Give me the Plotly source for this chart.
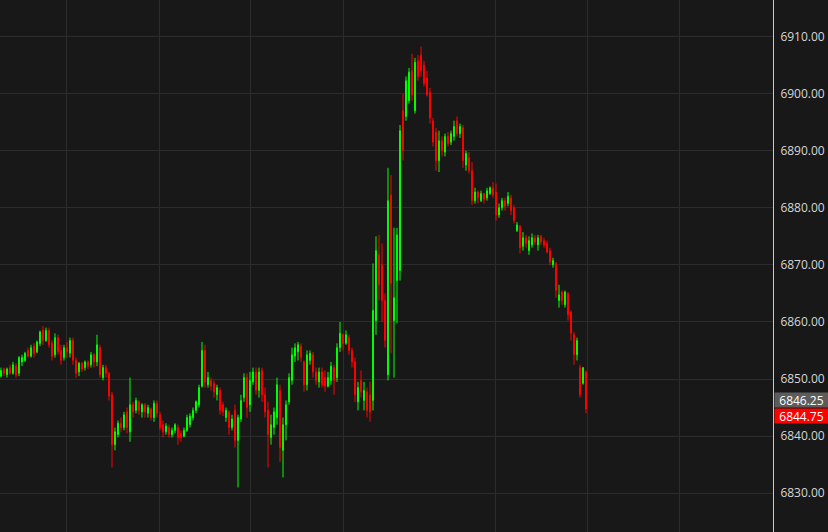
import plotly.graph_objects as go

# one bar every two minutes
opens = [
    6850.5, 6851.75, 6850.75, 6852.0, 6851.0, 6852.25, 6851.0, 6853.0, 6853.25, 6855.0,
    6854.0, 6855.75, 6854.75, 6856.25, 6858.5, 6856.75, 6858.5, 6856.25, 6854.25, 6857.25,
    6855.0, 6853.75, 6855.5, 6854.5, 6856.75, 6853.25, 6851.25, 6852.75, 6852.0, 6853.0,
    6852.5, 6854.25, 6853.0, 6855.5, 6850.25, 6852.0, 6851.0, 6847.25, 6838.5, 6840.25,
    6842.25, 6841.5, 6844.25, 6840.75, 6845.5, 6844.5, 6846.0, 6844.25, 6845.5, 6844.0,
    6844.75, 6843.25, 6845.75, 6843.75, 6842.0, 6840.75, 6841.5, 6840.25, 6841.0, 6841.5,
    6840.5, 6840.0, 6841.0, 6842.0, 6843.25, 6844.5, 6845.5, 6848.75, 6855.0, 6849.0,
    6849.75, 6849.25, 6847.25, 6848.0, 6845.5, 6843.25, 6844.25, 6841.5, 6844.5, 6839.25,
    6843.0, 6846.75, 6850.25, 6845.5, 6849.5, 6851.25, 6848.0, 6851.5, 6847.25, 6844.5,
    6839.75, 6841.5, 6843.25, 6848.0, 6837.5, 6842.0, 6846.0, 6849.75, 6854.0, 6854.75,
    6855.75, 6853.0, 6849.0, 6853.25, 6854.25, 6851.25, 6849.5, 6851.25, 6850.25, 6848.75,
    6849.75, 6852.0, 6850.25, 6855.5, 6857.75, 6856.25, 6857.25, 6855.0, 6853.0, 6846.0,
    6849.75, 6846.25, 6847.75, 6847.25, 6846.25, 6860.25, 6871.75, 6870.0, 6863.75, 6850.75,
    6882.25, 6860.25, 6867.25, 6869.0, 6897.0, 6896.0, 6898.75, 6904.0, 6897.0, 6905.75,
    6906.75, 6905.0, 6902.75, 6900.25, 6895.25, 6893.25, 6888.25, 6891.75, 6889.75, 6892.5,
    6891.5, 6892.5, 6895.25, 6893.0, 6894.0, 6887.5, 6888.75, 6886.5, 6881.25, 6882.75,
    6881.25, 6882.5, 6881.75, 6882.5, 6883.5, 6882.75, 6878.75, 6880.0, 6881.25, 6880.75,
    6881.75, 6880.0, 6876.0, 6876.75, 6873.25, 6874.75, 6872.5, 6873.5, 6874.75, 6873.5,
    6875.0, 6874.25, 6873.75, 6872.5, 6870.0, 6870.25, 6863.75, 6865.25, 6863.0, 6865.0,
    6861.75, 6857.75, 6854.25, 6852.0, 6849.25, 6851.25,
]
highs = [
    6852.0, 6852.0, 6852.0, 6852.5, 6853.0, 6852.75, 6854.0, 6854.25, 6854.75, 6855.5,
    6856.0, 6856.25, 6856.75, 6858.5, 6859.25, 6859.0, 6859.0, 6856.75, 6858.0, 6857.75,
    6856.0, 6856.0, 6856.5, 6857.25, 6857.25, 6853.75, 6853.0, 6853.0, 6853.25, 6853.25,
    6854.75, 6854.5, 6857.75, 6856.0, 6852.5, 6852.5, 6851.25, 6847.75, 6841.5, 6842.75,
    6843.25, 6844.25, 6845.0, 6850.25, 6846.0, 6846.75, 6846.25, 6845.75, 6845.75, 6845.5,
    6845.0, 6846.25, 6846.25, 6844.25, 6842.75, 6842.25, 6842.0, 6841.5, 6842.25, 6842.0,
    6841.0, 6841.5, 6843.75, 6844.0, 6845.0, 6846.25, 6849.0, 6856.5, 6856.0, 6851.25,
    6850.25, 6849.75, 6849.0, 6848.5, 6846.0, 6845.0, 6844.5, 6843.75, 6845.5, 6843.75,
    6847.25, 6851.0, 6851.0, 6851.25, 6852.0, 6852.0, 6852.0, 6852.0, 6848.5, 6846.0,
    6843.75, 6845.0, 6850.25, 6849.0, 6843.25, 6846.25, 6851.0, 6855.5, 6856.25, 6856.5,
    6856.25, 6853.25, 6855.0, 6855.0, 6854.75, 6852.0, 6852.0, 6852.0, 6851.5, 6851.25,
    6853.0, 6852.5, 6856.25, 6860.0, 6858.0, 6858.5, 6857.75, 6855.5, 6853.75, 6849.5,
    6851.5, 6849.5, 6848.5, 6849.5, 6870.25, 6875.0, 6875.25, 6873.75, 6865.0, 6887.0,
    6885.75, 6876.5, 6876.5, 6894.5, 6900.0, 6903.0, 6904.5, 6907.0, 6906.25, 6906.75,
    6908.25, 6905.75, 6904.0, 6901.0, 6895.75, 6894.0, 6893.5, 6892.5, 6893.0, 6893.25,
    6893.5, 6895.25, 6896.0, 6894.75, 6894.5, 6890.0, 6889.75, 6888.0, 6883.5, 6883.0,
    6883.0, 6882.5, 6883.5, 6883.75, 6884.5, 6884.25, 6880.75, 6881.75, 6881.75, 6882.75,
    6882.25, 6880.5, 6877.5, 6877.0, 6875.75, 6875.25, 6875.0, 6875.5, 6875.25, 6875.25,
    6875.25, 6874.75, 6874.25, 6873.0, 6871.25, 6870.5, 6866.5, 6865.5, 6865.5, 6865.25,
    6862.0, 6858.25, 6857.25, 6852.5, 6852.0, 6851.5,
]
lows = [
    6850.25, 6850.5, 6850.25, 6850.75, 6850.75, 6850.25, 6850.5, 6852.25, 6853.0, 6853.75,
    6853.75, 6853.75, 6854.5, 6855.75, 6856.0, 6856.5, 6855.5, 6853.25, 6853.75, 6854.25,
    6852.5, 6853.25, 6853.75, 6853.75, 6852.5, 6850.25, 6850.5, 6851.25, 6851.5, 6851.75,
    6852.0, 6852.0, 6852.25, 6850.25, 6849.75, 6850.25, 6846.25, 6834.5, 6837.5, 6839.75,
    6840.75, 6841.0, 6840.5, 6839.0, 6843.25, 6844.0, 6843.75, 6843.25, 6843.25, 6843.25,
    6842.75, 6842.5, 6843.25, 6841.0, 6839.75, 6840.25, 6839.75, 6839.75, 6840.5, 6838.5,
    6839.0, 6839.75, 6840.75, 6841.5, 6842.75, 6844.0, 6845.0, 6848.5, 6848.5, 6848.5,
    6848.0, 6846.75, 6846.25, 6843.75, 6843.5, 6842.5, 6840.25, 6841.0, 6838.0, 6831.0,
    6842.5, 6846.0, 6843.25, 6844.25, 6849.0, 6847.25, 6846.75, 6846.0, 6843.25, 6834.5,
    6838.5, 6840.25, 6842.0, 6835.5, 6832.75, 6839.25, 6845.5, 6849.0, 6853.0, 6853.25,
    6853.0, 6847.75, 6848.0, 6852.5, 6850.25, 6849.0, 6848.5, 6848.5, 6847.75, 6848.5,
    6849.0, 6847.25, 6849.5, 6854.75, 6855.0, 6856.0, 6854.25, 6852.0, 6846.0, 6844.5,
    6846.75, 6844.5, 6843.25, 6842.5, 6844.5, 6857.75, 6863.75, 6860.0, 6855.5, 6849.75,
    6854.5, 6850.25, 6859.75, 6867.25, 6888.25, 6895.25, 6898.25, 6898.75, 6896.5, 6902.25,
    6903.0, 6901.25, 6899.5, 6894.75, 6890.75, 6886.5, 6886.25, 6889.0, 6889.0, 6890.75,
    6891.0, 6891.75, 6892.5, 6892.25, 6887.0, 6886.5, 6886.0, 6880.5, 6880.75, 6880.75,
    6881.0, 6880.75, 6881.25, 6882.25, 6881.75, 6877.75, 6878.25, 6879.5, 6879.5, 6880.25,
    6878.75, 6877.25, 6875.75, 6872.0, 6872.5, 6873.0, 6871.75, 6873.0, 6873.5, 6872.5,
    6873.5, 6873.0, 6872.0, 6870.0, 6869.5, 6864.25, 6862.5, 6863.0, 6862.5, 6860.25,
    6856.75, 6852.5, 6853.25, 6846.75, 6849.0, 6844.0,
]
closes = [
    6851.5, 6851.0, 6851.75, 6851.0, 6852.5, 6850.75, 6853.75, 6853.75, 6854.5, 6854.0,
    6855.5, 6854.5, 6856.5, 6858.25, 6856.75, 6858.5, 6856.0, 6854.0, 6857.25, 6854.75,
    6853.25, 6855.5, 6854.75, 6856.75, 6853.25, 6851.0, 6852.75, 6851.75, 6853.0, 6852.25,
    6854.25, 6853.0, 6856.0, 6850.75, 6852.0, 6851.0, 6847.0, 6838.5, 6840.75, 6842.25,
    6841.5, 6843.75, 6841.5, 6845.5, 6844.25, 6846.25, 6844.5, 6845.5, 6844.25, 6845.0,
    6843.25, 6845.75, 6844.0, 6841.5, 6840.75, 6841.75, 6840.25, 6841.0, 6842.0, 6839.75,
    6839.75, 6841.0, 6843.25, 6843.5, 6844.5, 6846.0, 6848.5, 6855.0, 6849.5, 6850.25,
    6848.75, 6847.75, 6848.5, 6844.5, 6844.25, 6844.5, 6841.5, 6843.0, 6839.25, 6843.25,
    6846.25, 6850.25, 6845.0, 6849.75, 6851.25, 6848.0, 6851.25, 6847.25, 6844.25, 6840.25,
    6842.0, 6844.25, 6849.0, 6838.0, 6842.0, 6845.5, 6850.25, 6854.25, 6855.5, 6856.0,
    6853.75, 6849.0, 6854.25, 6854.5, 6851.25, 6849.75, 6851.25, 6849.0, 6848.75, 6850.25,
    6852.25, 6849.75, 6855.5, 6858.0, 6856.25, 6857.75, 6855.0, 6853.0, 6847.25, 6848.5,
    6847.75, 6848.0, 6844.5, 6844.25, 6862.0, 6872.5, 6866.5, 6863.75, 6856.75, 6881.25,
    6866.75, 6864.25, 6875.25, 6893.5, 6890.0, 6902.25, 6903.75, 6899.75, 6905.5, 6903.0,
    6904.0, 6901.75, 6899.75, 6895.75, 6891.5, 6888.25, 6891.75, 6890.0, 6892.5, 6891.25,
    6893.0, 6894.25, 6893.0, 6894.25, 6888.25, 6889.5, 6886.5, 6881.25, 6882.75, 6881.75,
    6882.5, 6881.5, 6883.0, 6883.5, 6882.25, 6878.75, 6880.0, 6881.25, 6880.25, 6882.0,
    6879.5, 6877.75, 6877.0, 6873.0, 6874.75, 6873.75, 6874.25, 6874.75, 6874.0, 6874.75,
    6874.0, 6873.5, 6872.25, 6870.5, 6870.75, 6865.5, 6864.75, 6863.75, 6865.25, 6861.25,
    6858.0, 6854.25, 6856.75, 6847.25, 6852.0, 6844.75,
]

price_ticks = [6830, 6840, 6850, 6860, 6870, 6880, 6890, 6900, 6910]
bid_price = 6846.25
last_price = closes[-1]

BG = '#181818'
GRID = '#2c2c2c'
UP = '#00ff00'
DOWN = '#ff0000'

bars = list(range(len(closes)))

fig = go.Figure(go.Candlestick(
    x=bars,
    open=opens, high=highs, low=lows, close=closes,
    increasing=dict(line=dict(color=UP, width=1), fillcolor=UP),
    decreasing=dict(line=dict(color=DOWN, width=1), fillcolor=DOWN),
    whiskerwidth=0,
    hoverinfo='skip',
))

fig.update_layout(
    width=828, height=532,
    margin=dict(l=0, r=55, t=0, b=0),
    paper_bgcolor=BG, plot_bgcolor=BG,
    showlegend=False,
    boxgap=0.55,
    xaxis=dict(
        range=[-0.33, 257.33],
        rangeslider=dict(visible=False),
        showticklabels=False, ticks='',
        tickmode='array', tickvals=[22, 52.67, 83, 114, 164.67, 195.33, 226],
        showgrid=True, gridcolor=GRID, gridwidth=1,
        zeroline=False, showline=False,
    ),
    yaxis=dict(
        side='right',
        range=[6823.2, 6916.4],
        tickmode='array', tickvals=price_ticks, tickformat='.2f',
        ticks='', ticklabelstandoff=4,
        showgrid=True, gridcolor=GRID, gridwidth=1,
        zeroline=False,
        showline=True, linecolor='#c8c8c8', linewidth=1,
        tickfont=dict(family='Open Sans', size=12, color='#d6d6d6'),
    ),
)

# price flags on the right scale
fig.add_annotation(
    xref='paper', x=1, xanchor='left', xshift=1,
    yref='y', y=bid_price, yanchor='middle',
    text=f'{bid_price:.2f}', showarrow=False,
    bgcolor='#5c5c5c', width=51, height=12, borderpad=1,
    font=dict(family='Open Sans', size=12, color='#ffffff'),
)
fig.add_annotation(
    xref='paper', x=1, xanchor='left', xshift=1,
    yref='y', y=last_price, yanchor='middle', yshift=-7,
    text=f'{last_price:.2f}', showarrow=False,
    bgcolor=DOWN, width=51, height=12, borderpad=1,
    font=dict(family='Open Sans', size=12, color='#ffffff'),
)

# drop the browser's default page margin so the chart sits at the window edge
fig.write_html("out.html", config={'displayModeBar': False},
               post_script="document.body.style.margin='0';document.body.style.background='#181818';")
